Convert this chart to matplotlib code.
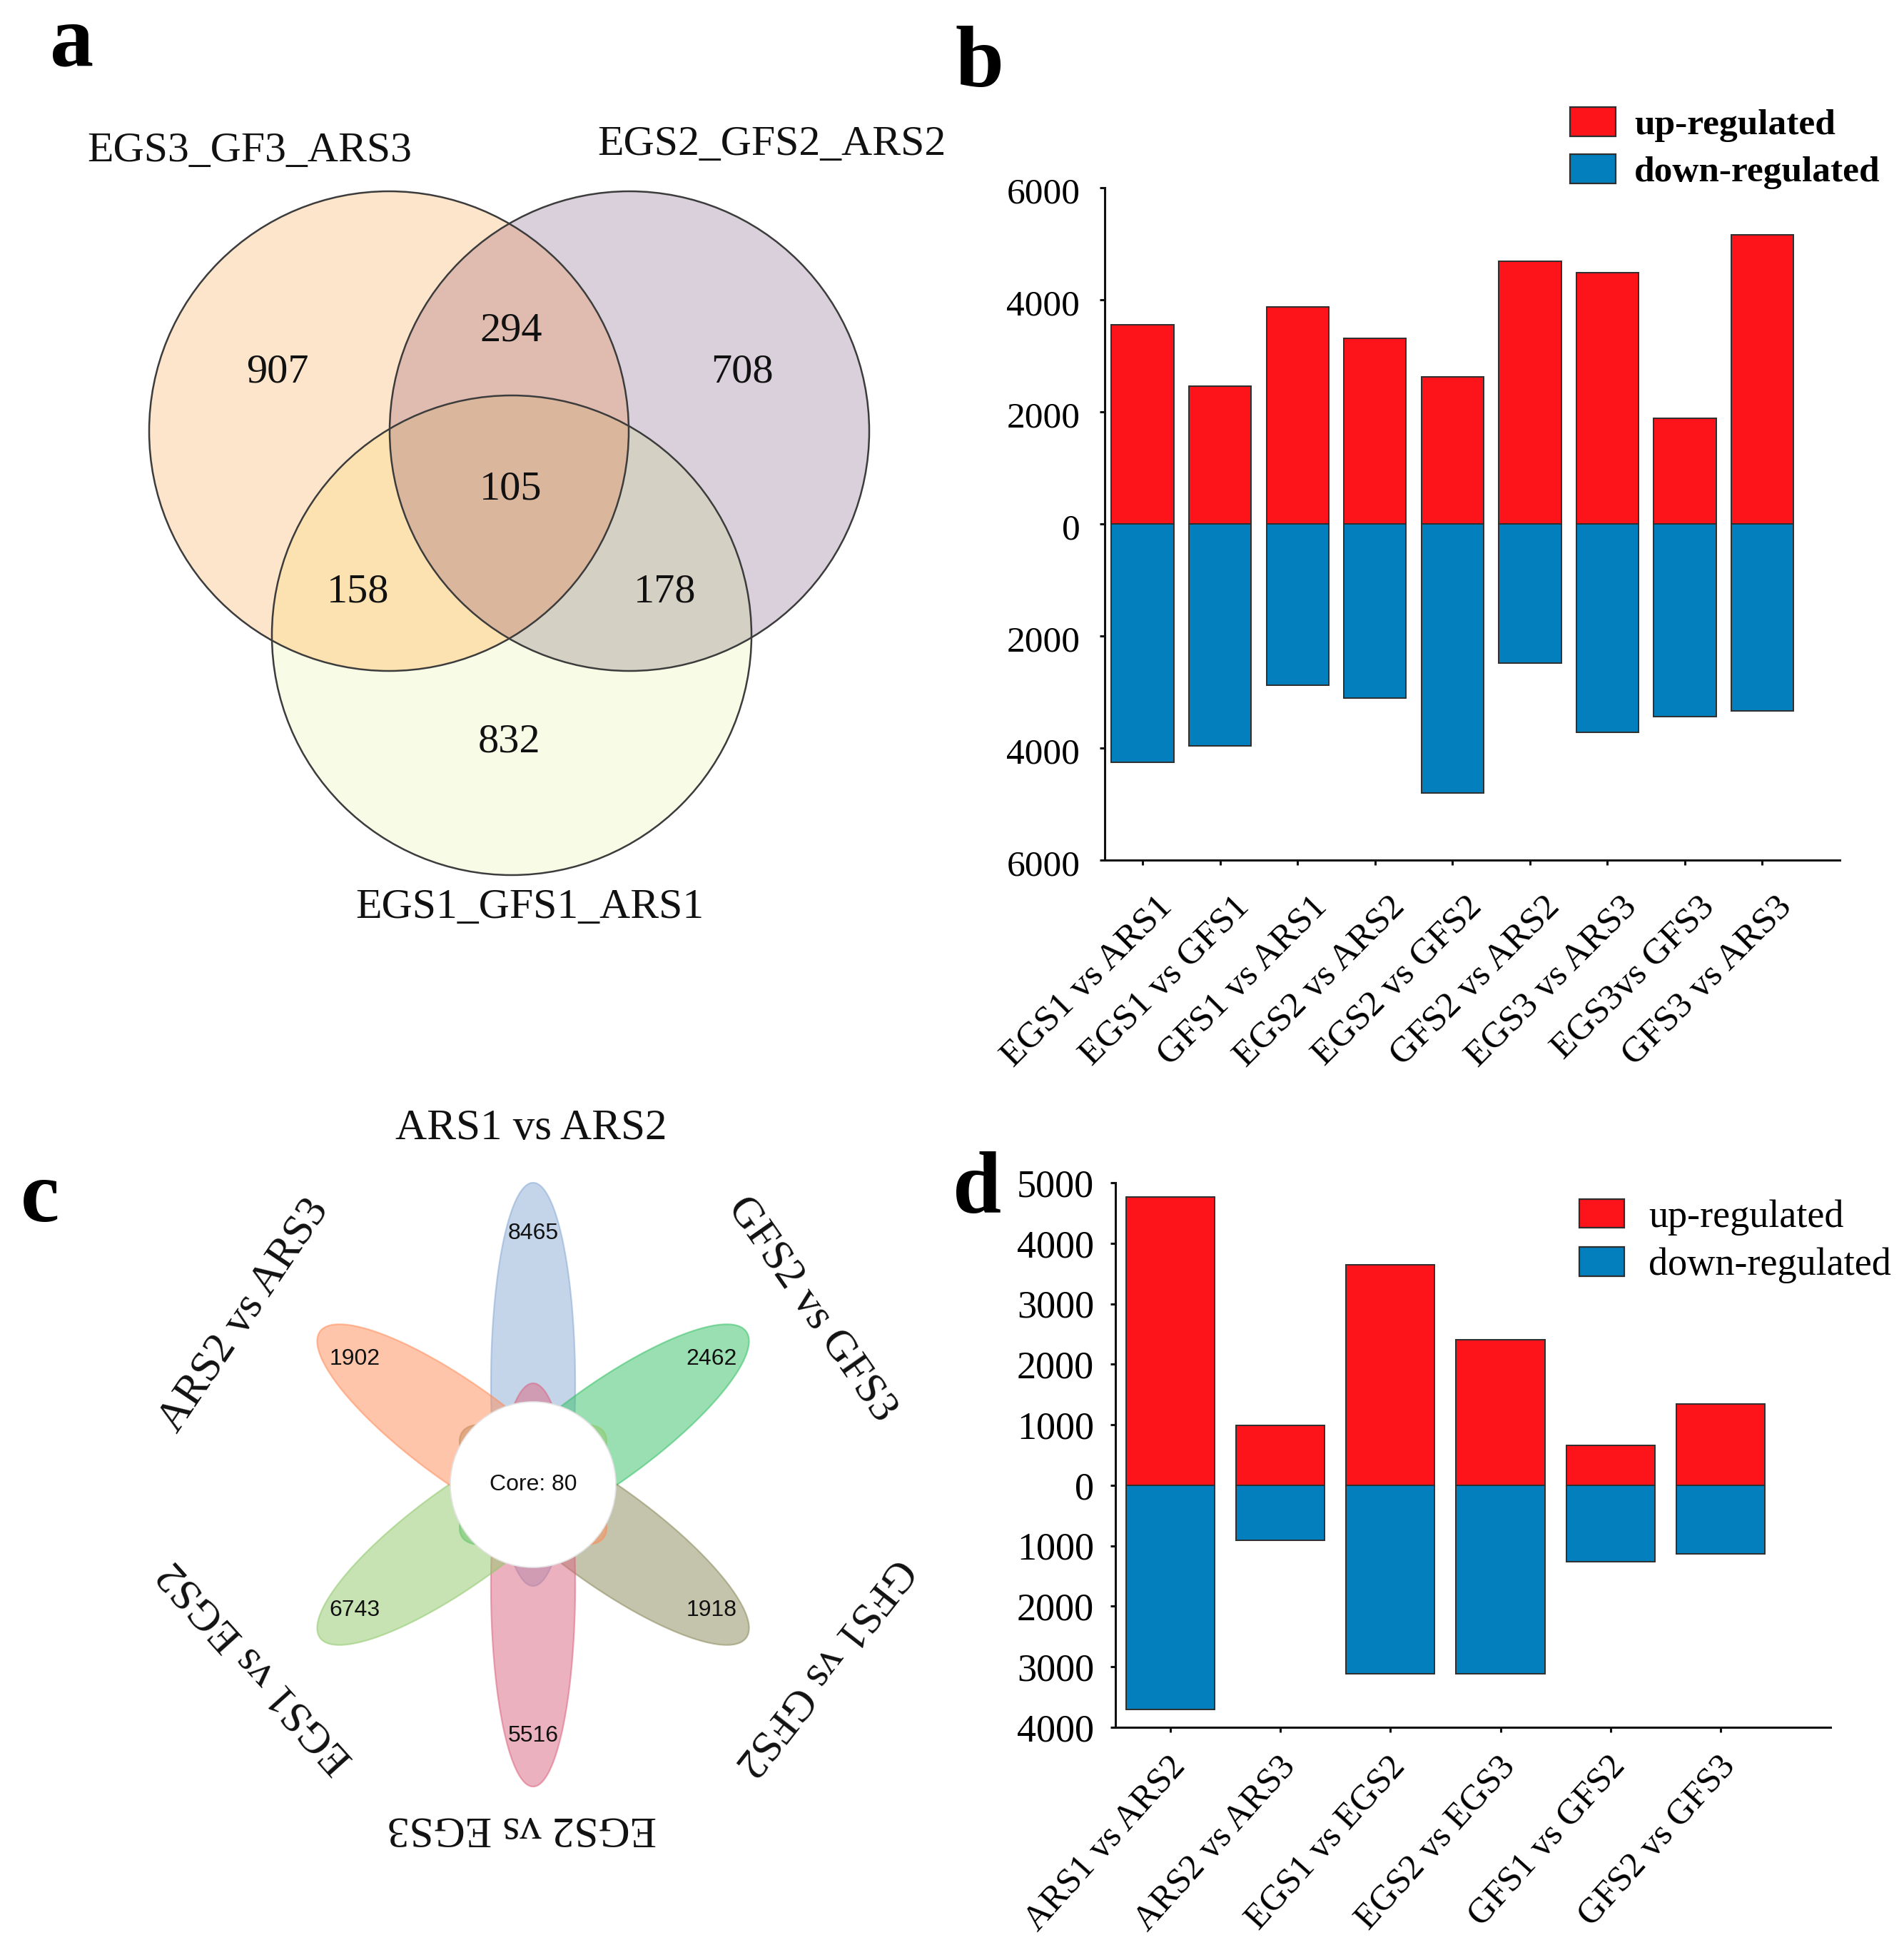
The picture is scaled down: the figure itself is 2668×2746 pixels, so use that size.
import numpy as np
import matplotlib
matplotlib.use("Agg")
import matplotlib.pyplot as plt
from matplotlib.patches import Circle, Polygon, Patch
from matplotlib.transforms import ScaledTranslation

# ---------------- data ----------------
venn_set_names = ["EGS3_GF3_ARS3", "EGS2_GFS2_ARS2", "EGS1_GFS1_ARS1"]
venn_regions = ["100", "010", "001", "110", "101", "011", "111"]
venn_counts = [907, 708, 832, 294, 158, 178, 105]

b_categories = ["EGS1 vs ARS1", "EGS1 vs GFS1", "GFS1 vs ARS1", "EGS2 vs ARS2",
                "EGS2 vs GFS2", "GFS2 vs ARS2", "EGS3 vs ARS3", "EGS3vs GFS3",
                "GFS3 vs ARS3"]
b_up = [3560, 2460, 3870, 3310, 2630, 4690, 4490, 1890, 5160]
b_down = [4250, 3960, 2880, 3110, 4800, 2480, 3720, 3440, 3340]
b_yticks = [-6000, -4000, -2000, 0, 2000, 4000, 6000]

flower_names = ["ARS1 vs ARS2", "GFS2 vs GFS3", "GFS1 vs GFS2",
                "EGS2 vs EGS3", "EGS1 vs EGS2", "ARS2 vs ARS3"]
flower_counts = [8465, 2462, 1918, 5516, 6743, 1902]
core_count = 80

d_categories = ["ARS1 vs ARS2", "ARS2 vs ARS3", "EGS1 vs EGS2",
                "EGS2 vs EGS3", "GFS1 vs GFS2", "GFS2 vs GFS3"]
d_up = [4760, 990, 3640, 2400, 660, 1340]
d_down = [3700, 910, 3110, 3110, 1260, 1130]
d_yticks = [-4000, -3000, -2000, -1000, 0, 1000, 2000, 3000, 4000, 5000]

legend_labels = ["up-regulated", "down-regulated"]

# ---------------- style ----------------
W, H, DPI = 2668, 2746, 200
SERIF = ["Liberation Serif", "DejaVu Serif"]
SANS = ["Liberation Sans", "DejaVu Sans"]
plt.rcParams["font.family"] = SERIF
RED = "#FD131A"
BLUE = "#037FBD"
BAR_EDGE = "#2e2e2e"

fig = plt.figure(figsize=(W / DPI, H / DPI), dpi=DPI)

# pixel canvas for panels a and c
cv = fig.add_axes([0, 0, 1, 1], zorder=0)
cv.set_xlim(0, W)
cv.set_ylim(H, 0)
cv.axis("off")

# ---------------- panel a : Venn ----------------
vc = [(545, 604), (882, 604), (717, 890)]
VR = 336
solo_col = ["#FDE5CB", "#D9D0DB", "#F8FCE6"]
pair_col = {(0, 1): "#E0BCB0", (0, 2): "#FDE2B1", (1, 2): "#D5D0C4"}
triple_col = "#DAB69C"


def vcirc(i, **kw):
    return Circle(vc[i], VR, transform=cv.transData, **kw)


for i in range(3):
    cv.add_patch(vcirc(i, facecolor=solo_col[i], edgecolor="none"))
for (i, j), col in pair_col.items():
    p = vcirc(i, facecolor=col, edgecolor="none")
    cv.add_patch(p)
    p.set_clip_path(vcirc(j))
tt = np.linspace(0, 2 * np.pi, 4000)
pts = []
for i in range(3):
    P = np.c_[vc[i][0] + VR * np.cos(tt), vc[i][1] + VR * np.sin(tt)]
    m = np.ones(len(P), bool)
    for j in range(3):
        if j != i:
            m &= np.hypot(P[:, 0] - vc[j][0], P[:, 1] - vc[j][1]) <= VR + 1e-6
    pts.append(P[m])
pts = np.vstack(pts)
cen = pts.mean(0)
pts = pts[np.argsort(np.arctan2(pts[:, 1] - cen[1], pts[:, 0] - cen[0]))]
cv.add_patch(Polygon(pts, closed=True, facecolor=triple_col, edgecolor="none"))
for i in range(3):
    cv.add_patch(vcirc(i, facecolor="none", edgecolor="#3c3c3c", lw=0.9))

region_pos = {"100": (389, 522), "010": (1040, 522), "001": (714, 1040),
              "110": (716, 464), "101": (502, 830), "011": (932, 830),
              "111": (716, 686)}
for reg, cnt in zip(venn_regions, venn_counts):
    x, y = region_pos[reg]
    cv.text(x, y, str(cnt), ha="center", va="center", fontsize=21, color="#111")

set_label_pos = [(350, 212), (1081, 203), (742, 1272)]
for name, (x, y) in zip(venn_set_names, set_label_pos):
    cv.text(x, y, name, ha="center", va="center", fontsize=21.5, color="#111")

# ---------------- panel c : flower ----------------
fc = np.array([747.0, 2080.0])
angles = [90, 30, -30, -90, -150, 150]
PA, PB, POFF, XS = 282.5, 72.0, 140.5, 0.82
petal_face = ["#8BABD5", "#37C167", "#8B8B5D", "#DB6581", "#91C96B", "#FF8D59"]
for k, ang in enumerate(angles):
    th = np.deg2rad(ang)
    u = np.array([np.cos(th), -np.sin(th)])
    v = np.array([np.sin(th), np.cos(th)])
    t = np.linspace(0, 2 * np.pi, 500)
    P = (POFF + PA * np.cos(t))[:, None] * u + (PB * np.sin(t))[:, None] * v
    P[:, 0] *= XS
    P += fc
    cv.add_patch(Polygon(P, closed=True, facecolor=petal_face[k], alpha=0.5,
                         edgecolor="none"))
    cv.add_patch(Polygon(P, closed=True, facecolor="none",
                         edgecolor=petal_face[k], alpha=0.55, lw=0.8))
    lp = fc + np.array([352 * u[0] * XS, 352 * u[1]])
    cv.text(lp[0], lp[1], str(flower_counts[k]), ha="center", va="center",
            fontsize=11.5, family=SANS, color="#111")

cv.add_patch(Circle(fc, 116, facecolor="white", edgecolor="#e4e4e4", lw=0.6,
                    transform=cv.transData))
cv.text(fc[0], fc[1], f"Core: {core_count}", ha="center", va="center",
        fontsize=11.5, family=SANS, color="#111")

name_layout = [((744, 1581), 0), ((1137, 1835), -55), ((1154, 2335), -128),
               ((731, 2561), 180), ((359, 2335), 132), ((342, 1843), 56)]
for name, ((x, y), rot) in zip(flower_names, name_layout):
    cv.text(x, y, name, ha="center", va="center", rotation=rot,
            rotation_mode="anchor", fontsize=22, color="#111")

# ---------------- panel letters ----------------
for letter, (x, y) in zip("abcd", [(101, 62), (1373, 91), (56, 1682), (1369, 1669)]):
    cv.text(x, y, letter, ha="center", va="center", fontsize=44,
            fontweight="bold", color="black")


# ---------------- bar panels ----------------
def bar_panel(rect_px, cats, up, down, yticks, ylim, xlim, tick_fs, xtick_fs,
              ypad, xpad, xoff_px, yoff_px, xrot):
    l, r, t_, b_ = rect_px
    ax = fig.add_axes([l / W, 1 - b_ / H, (r - l) / W, (b_ - t_) / H], zorder=2)
    ax.patch.set_alpha(0)
    x = np.arange(len(cats))
    ax.bar(x, up, width=0.805, color=RED, edgecolor=BAR_EDGE, lw=0.7)
    ax.bar(x, [-v for v in down], width=0.805, color=BLUE,
           edgecolor=BAR_EDGE, lw=0.7)
    ax.set_xlim(*xlim)
    ax.set_ylim(*ylim)
    for s in ("top", "right"):
        ax.spines[s].set_visible(False)
    for s in ("left", "bottom"):
        ax.spines[s].set_linewidth(1.1)
        ax.spines[s].set_color("#111")
    ax.set_yticks(yticks, labels=[str(abs(v)) for v in yticks])
    ax.set_xticks(x, labels=cats, rotation=xrot, ha="right", va="top",
                  rotation_mode="anchor")
    ax.tick_params(axis="y", length=2.5, width=1.1, pad=ypad,
                   labelsize=tick_fs, color="#111")
    ax.tick_params(axis="x", length=2.5, width=1.1, pad=xpad,
                   labelsize=xtick_fs, color="#111")
    oy = ScaledTranslation(0, -yoff_px / DPI, fig.dpi_scale_trans)
    for lab in ax.get_yticklabels():
        lab.set_transform(lab.get_transform() + oy)
    ox = ScaledTranslation(xoff_px / DPI, 0, fig.dpi_scale_trans)
    for lab in ax.get_xticklabels():
        lab.set_transform(lab.get_transform() + ox)
    return ax


axb = bar_panel((1548, 2578, 263, 1205), b_categories, b_up, b_down, b_yticks,
                (-6000, 6000), (-0.49, 9.0), 18.5, 18.5, 10, 12.6, 18, 4, 45)
axd = bar_panel((1563, 2565, 1657, 2420), d_categories, d_up, d_down, d_yticks,
                (-4000, 5000), (-0.5, 6.0), 19.5, 18, 8.3, 9, -4, 0, 48)

handles = [Patch(facecolor=RED, edgecolor=BAR_EDGE, lw=0.8),
           Patch(facecolor=BLUE, edgecolor=BAR_EDGE, lw=0.8)]
axb.legend(handles, legend_labels, loc="upper left",
           bbox_to_anchor=(2200 / W, 1 - 150 / H), bbox_transform=fig.transFigure,
           frameon=False, borderpad=0, borderaxespad=0, handlelength=1.25,
           handleheight=0.84, handletextpad=0.5, labelspacing=0.33,
           prop={"family": SERIF, "size": 18.5, "weight": "bold"})
axd.legend(handles, legend_labels, loc="upper left",
           bbox_to_anchor=(2213 / W, 1 - 1680 / H), bbox_transform=fig.transFigure,
           frameon=False, borderpad=0, borderaxespad=0, handlelength=1.17,
           handleheight=0.77, handletextpad=0.62, labelspacing=0.3,
           prop={"family": SERIF, "size": 19.5})

fig.savefig("out.png", dpi=DPI)
